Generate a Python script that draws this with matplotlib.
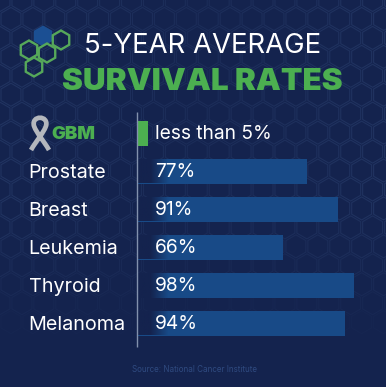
import numpy as np
import matplotlib
matplotlib.use("Agg")
import matplotlib.pyplot as plt
from matplotlib.patches import RegularPolygon, PathPatch
from matplotlib.path import Path

categories = ["GBM", "Prostate", "Breast", "Leukemia", "Thyroid", "Melanoma"]
values = [5, 77, 91, 66, 98, 94]
value_labels = ["less than 5%", "77%", "91%", "66%", "98%", "94%"]
title_top = "5-YEAR AVERAGE"
title_bottom = "SURVIVAL RATES"
source = "Source: National Cancer Institute"

W, H = 386, 387
BG = "#14234e"
GREEN = "#4caf50"
FONT = "Inter"
plt.rcParams["font.family"] = [FONT, "DejaVu Sans"]

fig = plt.figure(figsize=(W / 100, H / 100), dpi=100, facecolor=BG)

# Decoration layer in pixel coordinates
bg = fig.add_axes([0, 0, 1, 1], zorder=0)
bg.set_xlim(0, W)
bg.set_ylim(H, 0)
bg.axis("off")
bg.set_facecolor(BG)

R = 11.5
dx = R * np.sqrt(3) + 2
dy = R * 1.5 + 1.7
for r in range(-1, 24):
    for c in range(-1, 24):
        cx = c * dx + (dx / 2 if r % 2 else 0)
        cy = r * dy
        fade = np.clip((345 - cy) / 140, 0, 1)
        fade *= 0.55 + 0.45 * np.clip(abs(cx - 193) / 193, 0, 1)
        if fade > 0:
            bg.add_patch(RegularPolygon((cx, cy), 6, radius=R, fill=False,
                                        ec="#3f5a8c", lw=0.8, alpha=0.3 * fade))

# Logo hexagons
bg.add_patch(RegularPolygon((43, 36), 6, radius=10.5, fc="#1b4f93", ec="none", zorder=3))
for cx, cy in [(61, 40), (29, 50), (47, 53), (34, 67)]:
    bg.add_patch(RegularPolygon((cx, cy), 6, radius=9.5, fill=False, ec="#56a85a", lw=1.7, zorder=3))

# Awareness ribbon
ribbon = Path(
    [(31, 150), (36, 141), (43, 134), (46, 126), (49, 115), (31, 115), (34, 126), (37, 134), (44, 141), (49, 150)],
    [Path.MOVETO, Path.CURVE4, Path.CURVE4, Path.CURVE4, Path.CURVE4, Path.CURVE4, Path.CURVE4,
     Path.CURVE4, Path.CURVE4, Path.CURVE4],
)
bg.add_patch(PathPatch(ribbon, fill=False, ec="#b4b7bd", lw=3.4, capstyle="butt", zorder=3))

# Titles
bg.text(202.5, 53, title_top, color="white", fontsize=19.85,
        ha="center", va="baseline", zorder=4)
bg.text(202.5, 90, title_bottom, color=GREEN, fontsize=22.6, fontweight="black",
        ha="center", va="baseline", zorder=4)
bg.text(194.5, 370, source, color="#2f4a80", fontsize=5.8, ha="center", va="center", zorder=4)

# Chart axes: x is percent, y is category index
left, right = 137.0, 358.0
top, bottom = 114, 342
ax = fig.add_axes([left / W, 1 - bottom / H, (right - left) / W, (bottom - top) / H], zorder=2)
ax.patch.set_alpha(0)
for s in ax.spines.values():
    s.set_visible(False)
ax.set_xticks([])
ax.set_yticks(range(len(categories)))
ax.set_yticklabels([])
ax.tick_params(length=0)

positions = np.arange(len(categories))
bars = ax.barh(positions, values, height=25 / 38, color=["#4caf50"] + ["#184a87"] * 5, lw=0, zorder=2)

grad = np.linspace(1, 0, 256).reshape(1, -1)
rgba = np.zeros((1, 256, 4))
rgba[..., :3] = matplotlib.colors.to_rgb(BG)
rgba[..., 3] = np.clip((grad - 0.86) / 0.08, 0, 1)
for bar in list(bars)[1:]:
    y0 = bar.get_y()
    im = ax.imshow(rgba, extent=(0, 100, y0 + bar.get_height(), y0), aspect="auto", zorder=3)
    im.set_clip_path(bar)
ax.set_xlim(0, 100)
ax.set_ylim(5.5, -0.5)

# Vertical baseline at zero, running past the rows
ax.plot([0, 0], [-0.553, 5.63], color="#8291ad", lw=1.0, zorder=5, solid_capstyle="butt", clip_on=False)
ax.set_xlim(0, 100)
ax.set_ylim(5.5, -0.5)

for i, (cat, lab) in enumerate(zip(categories, value_labels)):
    ax.text(8.0, i + 6.3 / 38, lab, color="white", fontsize=13.8,
            va="baseline", ha="left", zorder=6, clip_on=False)
    if i == 0:
        bg.text(51, 139, cat, color=GREEN, fontsize=13.4, fontweight="black", va="baseline", ha="left", zorder=6)
    else:
        bg.text(28.5, 140 + 38 * i, cat, color="white", fontsize=14.2,
                va="baseline", ha="left", zorder=6)

fig.savefig("out.png", dpi=100, facecolor=BG)
